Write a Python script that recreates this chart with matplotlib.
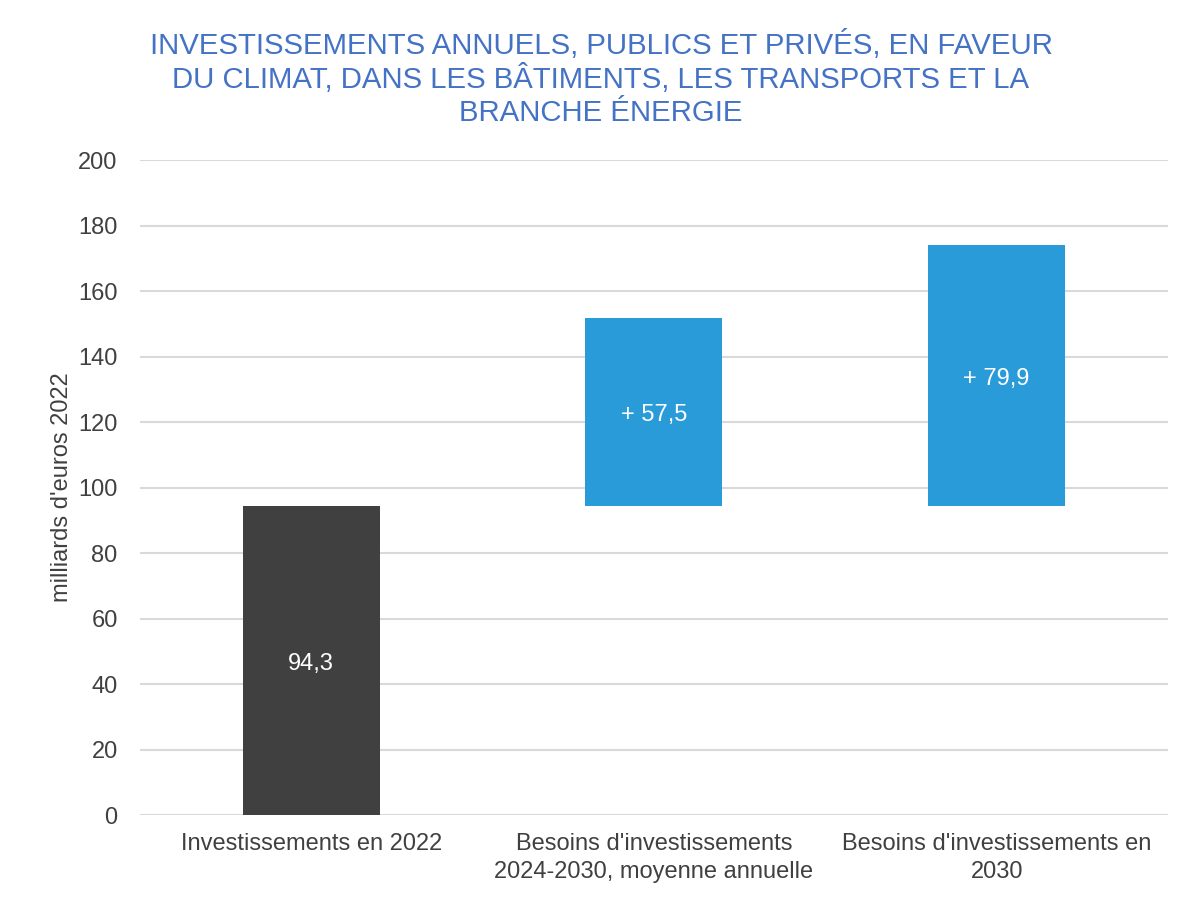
import matplotlib.pyplot as plt
import numpy as np

plt.rcParams["font.family"] = ["Liberation Sans", "DejaVu Sans"]

categories = [
    "Investissements en 2022",
    "Besoins d'investissements\n2024-2030, moyenne annuelle",
    "Besoins d'investissements en\n2030",
]
base_2022 = 94.3
increments = [57.5, 79.9]
labels = ["94,3", "+ 57,5", "+ 79,9"]

DARK = "#404040"
BLUE = "#2A9BD9"
TEXT = "#404040"
GRID = "#D9D9D9"

fig = plt.figure(figsize=(11.83, 8.98), dpi=100)
ax = fig.add_axes([0.1183, 0.0924, 0.869, 0.7294])

x = np.arange(len(categories))
heights = [base_2022] + increments
bottoms = [0, base_2022, base_2022]
colors = [DARK, BLUE, BLUE]

bars = ax.bar(x, heights, bottom=bottoms, width=0.4, color=colors, zorder=3)

# value labels, centred in each segment (nudged a touch down like the original)
for i, b in enumerate(bars):
    ax.text(b.get_x() + b.get_width() / 2, bottoms[i] + heights[i] / 2 - 1, labels[i],
            ha="center", va="center", color="white", fontsize=17, zorder=4)

ax.set_xlim(-0.5, 2.5)
ax.set_ylim(0, 200)
ax.set_yticks(np.arange(0, 201, 20))
ax.grid(axis="y", color=GRID, linewidth=1.5, zorder=0)
ax.set_axisbelow(True)
for s in ax.spines.values():
    s.set_visible(False)
ax.tick_params(axis="both", length=0, labelsize=17, labelcolor=TEXT)
ax.tick_params(axis="y", pad=16)
ax.tick_params(axis="x", pad=13)
ax.set_xticks(x)
ax.set_xticklabels(categories, linespacing=1.35)
ax.set_ylabel("milliards d'euros 2022", fontsize=17, color=TEXT, labelpad=4)

fig.text(0.508, 0.967,
         "INVESTISSEMENTS ANNUELS, PUBLICS ET PRIVÉS, EN FAVEUR\n"
         "DU CLIMAT, DANS LES BÂTIMENTS, LES TRANSPORTS ET LA\n"
         "BRANCHE ÉNERGIE",
         ha="center", va="top", fontsize=21.2, color="#4472C4", linespacing=1.2)

fig.savefig("out.png", dpi=100)
